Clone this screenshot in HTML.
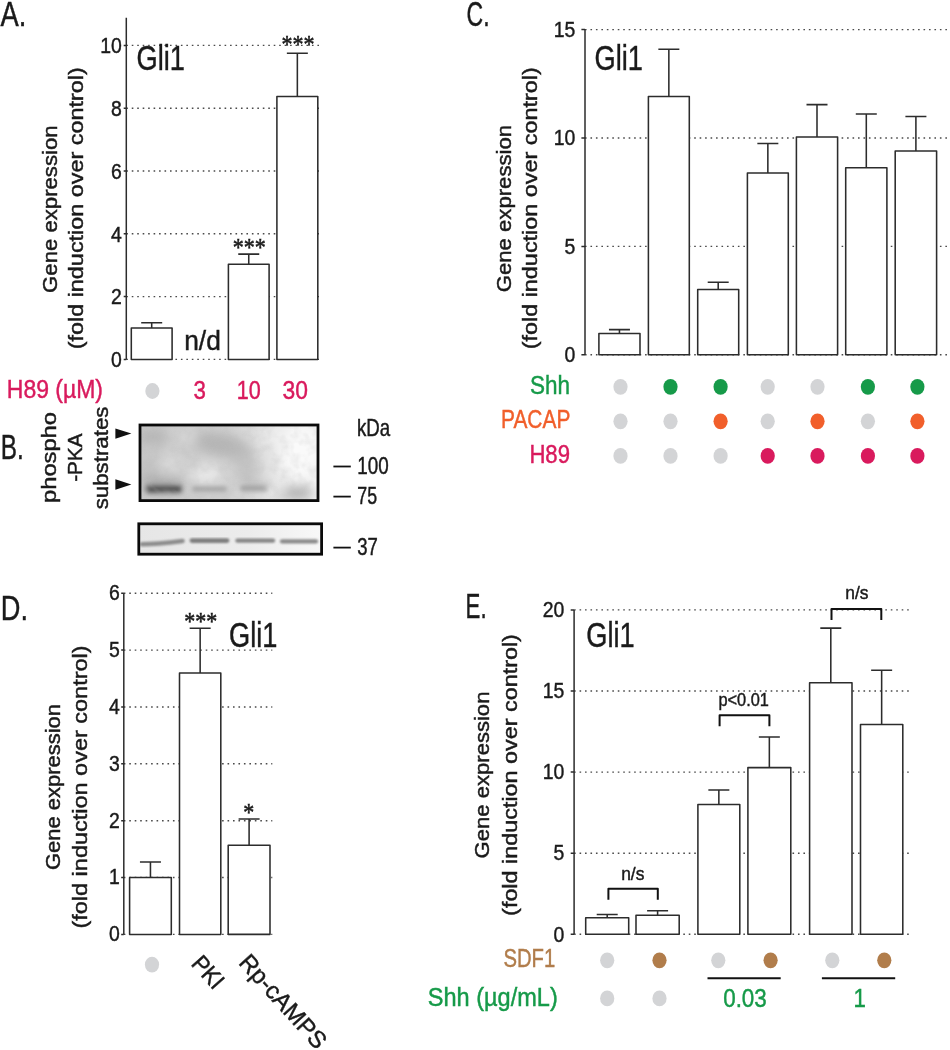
<!DOCTYPE html>
<html lang="en"><head><meta charset="utf-8"><title>Figure</title>
<style>
html,body{margin:0;padding:0;background:#fff}
svg{display:block;will-change:transform}
text{font-family:"Liberation Sans", sans-serif;stroke-width:.45}
.s{font-family:"Liberation Serif",serif;stroke-width:.55}
.g{stroke:#4a4a4a;stroke-width:1.4;stroke-dasharray:1.6 3.86;fill:none}
.b{fill:#fff;stroke:#2c2c2c;stroke-width:1.55;stroke-linejoin:round}
.e{fill:none;stroke:#2c2c2c;stroke-width:1.55}
.a{fill:none;stroke:#2c2c2c;stroke-width:1.5}
.k{fill:none;stroke:#111;stroke-width:2;stroke-linejoin:round}
</style></head>
<body>
<svg width="950" height="1050" viewBox="0 0 950 1050">
<defs>
<linearGradient id="bg1" x1="0" y1="0" x2="1" y2="0">
<stop offset="0" stop-color="#c9c9c9"/><stop offset=".5" stop-color="#d0d0d0"/><stop offset=".72" stop-color="#e2e2e2"/><stop offset=".86" stop-color="#f0f0f0"/><stop offset="1" stop-color="#f3f3f3"/>
</linearGradient>
<linearGradient id="bg2" x1="0" y1="0" x2="1" y2="0">
<stop offset="0" stop-color="#e6e6e6"/><stop offset=".6" stop-color="#ececec"/><stop offset="1" stop-color="#f8f8f8"/>
</linearGradient>
<clipPath id="c1"><rect x="140" y="425" width="178" height="75.6"/></clipPath>
<filter id="bl6" x="-30%" y="-30%" width="160%" height="160%"><feGaussianBlur stdDeviation="6"/></filter>
<filter id="bl2" x="-30%" y="-80%" width="160%" height="260%"><feGaussianBlur stdDeviation="2.1"/></filter>
<filter id="nz" x="0" y="0" width="100%" height="100%"><feTurbulence type="fractalNoise" baseFrequency=".11" numOctaves="2" seed="7" result="t"/><feColorMatrix in="t" type="matrix" values="0 0 0 0 .5 0 0 0 0 .5 0 0 0 0 .5 1.8 0 0 0 -.7"/></filter>
<filter id="bl1" x="-10%" y="-100%" width="120%" height="300%"><feGaussianBlur stdDeviation="1.1"/></filter>
</defs>
<rect width="950" height="1050" fill="#fff"/>
<g fill="#1a1a1a">
<!-- Panel A -->
<line x1="126.30" x2="322.50" y1="296.60" y2="296.60" class="g"/>
<line x1="126.30" x2="322.50" y1="233.80" y2="233.80" class="g"/>
<line x1="126.30" x2="322.50" y1="171.00" y2="171.00" class="g"/>
<line x1="126.30" x2="322.50" y1="108.20" y2="108.20" class="g"/>
<line x1="126.30" x2="322.50" y1="45.40" y2="45.40" class="g"/>
<line x1="126.30" x2="322.50" y1="359.40" y2="359.40" class="g"/>
<path d="M126.30 17.70V359.40M126.30 359.40h-2.6M126.30 296.60h-2.6M126.30 233.80h-2.6M126.30 171.00h-2.6M126.30 108.20h-2.6M126.30 45.40h-2.6" class="a"/>
<text x="111.10" y="367.10" font-size="22.8" textLength="10.80" lengthAdjust="spacingAndGlyphs" stroke="#1a1a1a" >0</text>
<text x="111.10" y="304.30" font-size="22.8" textLength="10.80" lengthAdjust="spacingAndGlyphs" stroke="#1a1a1a" >2</text>
<text x="111.10" y="241.50" font-size="22.8" textLength="10.80" lengthAdjust="spacingAndGlyphs" stroke="#1a1a1a" >4</text>
<text x="111.10" y="178.70" font-size="22.8" textLength="10.80" lengthAdjust="spacingAndGlyphs" stroke="#1a1a1a" >6</text>
<text x="111.10" y="115.90" font-size="22.8" textLength="10.80" lengthAdjust="spacingAndGlyphs" stroke="#1a1a1a" >8</text>
<text x="100.30" y="53.10" font-size="22.8" textLength="21.60" lengthAdjust="spacingAndGlyphs" stroke="#1a1a1a" >10</text>
<rect x="131.30" y="328.00" width="40.80" height="31.40" class="b"/>
<path d="M151.70 328.00V322.70M141.20 322.70H162.20" class="e"/>
<rect x="228.40" y="264.30" width="40.70" height="95.10" class="b"/>
<path d="M248.75 264.30V254.10M238.25 254.10H259.25" class="e"/>
<rect x="276.90" y="96.50" width="40.90" height="262.90" class="b"/>
<path d="M297.35 96.50V53.30M286.85 53.30H307.85" class="e"/>
<text x="136.60" y="69.60" font-size="35" textLength="48.40" lengthAdjust="spacingAndGlyphs" stroke="#1a1a1a" >Gli1</text>
<text x="0.50" y="25.90" font-size="35" textLength="25.80" lengthAdjust="spacingAndGlyphs" stroke="#1a1a1a" >A.</text>
<text x="184.20" y="349.50" font-size="28" textLength="36.60" lengthAdjust="spacingAndGlyphs" stroke="#1a1a1a" >n/d</text>
<text x="232.80" y="255.80" font-size="25" textLength="33.00" lengthAdjust="spacingAndGlyphs" stroke="#1a1a1a"  class="s">***</text>
<text x="281.50" y="52.80" font-size="25" textLength="33.00" lengthAdjust="spacingAndGlyphs" stroke="#1a1a1a"  class="s">***</text>
<text stroke="#1a1a1a" font-size="20.7" text-anchor="middle" textLength="167.4" lengthAdjust="spacingAndGlyphs" transform="translate(56.60 209.20) rotate(-90)">Gene expression</text>
<text stroke="#1a1a1a" font-size="20.7" text-anchor="middle" textLength="282" lengthAdjust="spacingAndGlyphs" transform="translate(83.00 208.30) rotate(-90)">(fold induction over control)</text>
<text x="6.80" y="397.60" font-size="25.5" textLength="96.20" lengthAdjust="spacingAndGlyphs" fill="#d91a5d" stroke="#d91a5d" >H89 (µM)</text>
<ellipse cx="152.40" cy="391.00" rx="7.10" ry="7.90" fill="#d3d4d6"/>
<text x="193.60" y="399.00" font-size="25.5" textLength="12.40" lengthAdjust="spacingAndGlyphs" fill="#d91a5d" stroke="#d91a5d" >3</text>
<text x="236.80" y="399.00" font-size="25.5" textLength="24.00" lengthAdjust="spacingAndGlyphs" fill="#d91a5d" stroke="#d91a5d" >10</text>
<text x="282.60" y="399.00" font-size="25.5" textLength="25.40" lengthAdjust="spacingAndGlyphs" fill="#d91a5d" stroke="#d91a5d" >30</text>
<!-- Panel B -->
<text x="0.80" y="458.60" font-size="35" textLength="23.00" lengthAdjust="spacingAndGlyphs" stroke="#1a1a1a" >B.</text>
<text x="56.00" y="503.00" font-size="20.8" textLength="91.00" lengthAdjust="spacingAndGlyphs" stroke="#1a1a1a" transform="rotate(-90 56.00 503.00)" >phospho</text>
<text x="82.20" y="481.80" font-size="20.8" textLength="48.30" lengthAdjust="spacingAndGlyphs" stroke="#1a1a1a" transform="rotate(-90 82.20 481.80)" >-PKA</text>
<text x="108.00" y="509.30" font-size="20.8" textLength="102.80" lengthAdjust="spacingAndGlyphs" stroke="#1a1a1a" transform="rotate(-90 108.00 509.30)" >substrates</text>
<path d="M115.4 428.4L131.4 433.6L115.4 438.8Z" fill="#111"/>
<path d="M115.4 479.3L131.4 484.5L115.4 489.7Z" fill="#111"/>
<g>
<rect x="140" y="425" width="178" height="75.6" fill="url(#bg1)"/>
<g clip-path="url(#c1)">
<g filter="url(#bl6)">
<ellipse cx="222" cy="445" rx="30" ry="11" fill="#9c9c9c" opacity=".5" transform="rotate(12 222 445)"/>
<ellipse cx="247" cy="466" rx="13" ry="15" fill="#b2b2b2" opacity=".5"/>
<ellipse cx="153" cy="437" rx="15" ry="8" fill="#a8a8a8" opacity=".6"/>
<ellipse cx="150" cy="470" rx="8" ry="16" fill="#b8b8b8" opacity=".5"/>
<ellipse cx="206" cy="474" rx="17" ry="9" fill="#efefef" opacity=".85"/>
<ellipse cx="170" cy="464" rx="11" ry="9" fill="#e6e6e6" opacity=".6"/>
<ellipse cx="186" cy="436" rx="12" ry="7" fill="#e2e2e2" opacity=".5"/>
<ellipse cx="300" cy="452" rx="20" ry="26" fill="#fbfbfb" opacity=".9"/>
<ellipse cx="276" cy="436" rx="14" ry="10" fill="#f1f1f1" opacity=".7"/>
<ellipse cx="162" cy="483" rx="22" ry="7" fill="#8e8e8e" opacity=".5"/>
<ellipse cx="298" cy="493" rx="16" ry="7" fill="#a4a4a4" opacity=".85"/>
<ellipse cx="254" cy="484" rx="15" ry="5" fill="#a0a0a0" opacity=".45"/>
</g>
<g filter="url(#bl2)">
<rect x="144.500" y="483" width="39" height="12" rx="5" fill="#808080" opacity=".5"/>
<rect x="146.500" y="486.3" width="35" height="5.6" rx="2.8" fill="#484848" opacity=".92"/>
<rect x="192" y="486.4" width="35" height="5" rx="2.5" fill="#949494" opacity=".75"/>
<rect x="240" y="485.2" width="27" height="6" rx="3" fill="#939393" opacity=".72"/>
</g>
<rect x="140" y="425" width="178" height="75.6" filter="url(#nz)" opacity=".3"/>
</g>
<rect x="140" y="425" width="178" height="75.6" fill="none" stroke="#0a0a0a" stroke-width="2.8"/>
</g>
<g>
<rect x="138.8" y="523.8" width="182.8" height="30.4" fill="url(#bg2)"/>
<g filter="url(#bl1)">
<path d="M142 544.2C155 544.2 170 542.5 182.5 541" stroke="#8c8c8c" stroke-width="4.6" stroke-linecap="round" fill="none"/>
<path d="M192 540.6H227" stroke="#7e7e7e" stroke-width="4.8" stroke-linecap="round" fill="none"/>
<path d="M237.5 540.6H273" stroke="#868686" stroke-width="4.4" stroke-linecap="round" fill="none"/>
<path d="M282 541.4H316" stroke="#8a8a8a" stroke-width="4.2" stroke-linecap="round" fill="none"/>
</g>
<rect x="138.8" y="523.8" width="182.8" height="30.4" fill="none" stroke="#0a0a0a" stroke-width="2.8"/>
</g>
<text x="357.00" y="436.40" font-size="23.4" textLength="33.20" lengthAdjust="spacingAndGlyphs" stroke="#1a1a1a" >kDa</text>
<line x1="333.4" x2="350.8" y1="466.5" y2="466.5" stroke="#111" stroke-width="1.8"/>
<text x="357.30" y="473.70" font-size="23.0" textLength="31.40" lengthAdjust="spacingAndGlyphs" stroke="#1a1a1a" >100</text>
<line x1="333.4" x2="350.8" y1="496.6" y2="496.6" stroke="#111" stroke-width="1.8"/>
<text x="357.30" y="503.80" font-size="23.0" textLength="19.80" lengthAdjust="spacingAndGlyphs" stroke="#1a1a1a" >75</text>
<line x1="333.4" x2="350.8" y1="547.6" y2="547.6" stroke="#111" stroke-width="1.8"/>
<text x="357.30" y="554.80" font-size="23.0" textLength="20.60" lengthAdjust="spacingAndGlyphs" stroke="#1a1a1a" >37</text>
<!-- Panel C -->
<line x1="585.00" x2="950.00" y1="354.80" y2="354.80" class="g"/>
<line x1="585.00" x2="950.00" y1="246.40" y2="246.40" class="g"/>
<line x1="585.00" x2="950.00" y1="138.00" y2="138.00" class="g"/>
<line x1="585.00" x2="950.00" y1="29.60" y2="29.60" class="g"/>
<path d="M585.00 29.60V354.80M585.00 354.80h-3.6M585.00 246.40h-3.6M585.00 138.00h-3.6M585.00 29.60h-3.6" class="a"/>
<text x="564.60" y="362.00" font-size="22.8" textLength="10.80" lengthAdjust="spacingAndGlyphs" stroke="#1a1a1a" >0</text>
<text x="564.60" y="253.60" font-size="22.8" textLength="10.80" lengthAdjust="spacingAndGlyphs" stroke="#1a1a1a" >5</text>
<text x="553.80" y="145.20" font-size="22.8" textLength="21.60" lengthAdjust="spacingAndGlyphs" stroke="#1a1a1a" >10</text>
<text x="553.80" y="36.80" font-size="22.8" textLength="21.60" lengthAdjust="spacingAndGlyphs" stroke="#1a1a1a" >15</text>
<rect x="598.90" y="333.40" width="41.10" height="21.40" class="b"/>
<path d="M619.45 333.40V329.60M608.95 329.60H629.95" class="e"/>
<rect x="648.40" y="96.50" width="40.90" height="258.30" class="b"/>
<path d="M668.85 96.50V49.30M658.35 49.30H679.35" class="e"/>
<rect x="697.70" y="289.50" width="41.00" height="65.30" class="b"/>
<path d="M718.20 289.50V282.30M707.70 282.30H728.70" class="e"/>
<rect x="747.40" y="173.00" width="40.90" height="181.80" class="b"/>
<path d="M767.85 173.00V143.50M757.35 143.50H778.35" class="e"/>
<rect x="796.40" y="137.00" width="41.20" height="217.80" class="b"/>
<path d="M817.00 137.00V104.60M806.50 104.60H827.50" class="e"/>
<rect x="845.70" y="167.80" width="41.20" height="187.00" class="b"/>
<path d="M866.30 167.80V114.00M855.80 114.00H876.80" class="e"/>
<rect x="895.20" y="151.00" width="41.40" height="203.80" class="b"/>
<path d="M915.90 151.00V116.50M905.40 116.50H926.40" class="e"/>
<text x="594.60" y="69.60" font-size="35" textLength="48.40" lengthAdjust="spacingAndGlyphs" stroke="#1a1a1a" >Gli1</text>
<text x="466.60" y="25.60" font-size="35" textLength="23.00" lengthAdjust="spacingAndGlyphs" stroke="#1a1a1a" >C.</text>
<text stroke="#1a1a1a" font-size="20.7" text-anchor="middle" textLength="167.4" lengthAdjust="spacingAndGlyphs" transform="translate(510.60 208.60) rotate(-90)">Gene expression</text>
<text stroke="#1a1a1a" font-size="20.7" text-anchor="middle" textLength="282" lengthAdjust="spacingAndGlyphs" transform="translate(537.40 208.30) rotate(-90)">(fold induction over control)</text>
<text x="530.00" y="393.60" font-size="25.5" textLength="40.00" lengthAdjust="spacingAndGlyphs" fill="#169a49" stroke="#169a49" >Shh</text>
<text x="501.00" y="428.20" font-size="25.5" textLength="69.40" lengthAdjust="spacingAndGlyphs" fill="#f15f2b" stroke="#f15f2b" >PACAP</text>
<text x="529.40" y="462.60" font-size="25.5" textLength="40.60" lengthAdjust="spacingAndGlyphs" fill="#d91a5d" stroke="#d91a5d" >H89</text>
<ellipse cx="620.50" cy="386.80" rx="7.10" ry="7.90" fill="#d3d4d6"/>
<ellipse cx="670.50" cy="386.80" rx="7.10" ry="7.90" fill="#169a49"/>
<ellipse cx="720.60" cy="386.80" rx="7.10" ry="7.90" fill="#169a49"/>
<ellipse cx="767.70" cy="386.80" rx="7.10" ry="7.90" fill="#d3d4d6"/>
<ellipse cx="817.50" cy="386.80" rx="7.10" ry="7.90" fill="#d3d4d6"/>
<ellipse cx="867.90" cy="386.80" rx="7.10" ry="7.90" fill="#169a49"/>
<ellipse cx="917.40" cy="386.80" rx="7.10" ry="7.90" fill="#169a49"/>
<ellipse cx="620.50" cy="421.30" rx="7.10" ry="7.90" fill="#d3d4d6"/>
<ellipse cx="670.50" cy="421.30" rx="7.10" ry="7.90" fill="#d3d4d6"/>
<ellipse cx="720.60" cy="421.30" rx="7.10" ry="7.90" fill="#f15f2b"/>
<ellipse cx="767.70" cy="421.30" rx="7.10" ry="7.90" fill="#d3d4d6"/>
<ellipse cx="817.50" cy="421.30" rx="7.10" ry="7.90" fill="#f15f2b"/>
<ellipse cx="867.90" cy="421.30" rx="7.10" ry="7.90" fill="#d3d4d6"/>
<ellipse cx="917.40" cy="421.30" rx="7.10" ry="7.90" fill="#f15f2b"/>
<ellipse cx="620.50" cy="455.90" rx="7.10" ry="7.90" fill="#d3d4d6"/>
<ellipse cx="670.50" cy="455.90" rx="7.10" ry="7.90" fill="#d3d4d6"/>
<ellipse cx="720.60" cy="455.90" rx="7.10" ry="7.90" fill="#d3d4d6"/>
<ellipse cx="767.70" cy="455.90" rx="7.10" ry="7.90" fill="#d91a5d"/>
<ellipse cx="817.50" cy="455.90" rx="7.10" ry="7.90" fill="#d91a5d"/>
<ellipse cx="867.90" cy="455.90" rx="7.10" ry="7.90" fill="#d91a5d"/>
<ellipse cx="917.40" cy="455.90" rx="7.10" ry="7.90" fill="#d91a5d"/>
<!-- Panel D -->
<line x1="123.80" x2="272.30" y1="934.40" y2="934.40" class="g"/>
<line x1="123.80" x2="272.30" y1="877.54" y2="877.54" class="g"/>
<line x1="123.80" x2="272.30" y1="820.68" y2="820.68" class="g"/>
<line x1="123.80" x2="272.30" y1="763.82" y2="763.82" class="g"/>
<line x1="123.80" x2="272.30" y1="706.96" y2="706.96" class="g"/>
<line x1="123.80" x2="272.30" y1="650.10" y2="650.10" class="g"/>
<line x1="123.80" x2="272.30" y1="593.24" y2="593.24" class="g"/>
<path d="M123.80 593.24V934.40M123.80 934.40h-2.6M123.80 877.54h-2.6M123.80 820.68h-2.6M123.80 763.82h-2.6M123.80 706.96h-2.6M123.80 650.10h-2.6M123.80 593.24h-2.6" class="a"/>
<text x="108.90" y="941.30" font-size="22.8" textLength="10.80" lengthAdjust="spacingAndGlyphs" stroke="#1a1a1a" >0</text>
<text x="108.90" y="884.44" font-size="22.8" textLength="10.80" lengthAdjust="spacingAndGlyphs" stroke="#1a1a1a" >1</text>
<text x="108.90" y="827.58" font-size="22.8" textLength="10.80" lengthAdjust="spacingAndGlyphs" stroke="#1a1a1a" >2</text>
<text x="108.90" y="770.72" font-size="22.8" textLength="10.80" lengthAdjust="spacingAndGlyphs" stroke="#1a1a1a" >3</text>
<text x="108.90" y="713.86" font-size="22.8" textLength="10.80" lengthAdjust="spacingAndGlyphs" stroke="#1a1a1a" >4</text>
<text x="108.90" y="657.00" font-size="22.8" textLength="10.80" lengthAdjust="spacingAndGlyphs" stroke="#1a1a1a" >5</text>
<text x="108.90" y="600.14" font-size="22.8" textLength="10.80" lengthAdjust="spacingAndGlyphs" stroke="#1a1a1a" >6</text>
<rect x="129.60" y="877.50" width="41.70" height="56.90" class="b"/>
<path d="M150.45 877.50V862.00M139.95 862.00H160.95" class="e"/>
<rect x="179.50" y="673.00" width="41.30" height="261.40" class="b"/>
<path d="M200.15 673.00V628.30M189.65 628.30H210.65" class="e"/>
<rect x="228.20" y="845.30" width="41.80" height="89.10" class="b"/>
<path d="M249.10 845.30V818.90M238.60 818.90H259.60" class="e"/>
<text x="229.10" y="647.10" font-size="35" textLength="48.40" lengthAdjust="spacingAndGlyphs" stroke="#1a1a1a" >Gli1</text>
<text x="0.80" y="619.60" font-size="35" textLength="27.20" lengthAdjust="spacingAndGlyphs" stroke="#1a1a1a" >D.</text>
<text x="184.20" y="629.50" font-size="25" textLength="33.00" lengthAdjust="spacingAndGlyphs" stroke="#1a1a1a"  class="s">***</text>
<text x="243.20" y="821.30" font-size="25" textLength="11.00" lengthAdjust="spacingAndGlyphs" stroke="#1a1a1a"  class="s">*</text>
<text stroke="#1a1a1a" font-size="20.7" text-anchor="middle" textLength="166" lengthAdjust="spacingAndGlyphs" transform="translate(60.00 787.00) rotate(-90)">Gene expression</text>
<text stroke="#1a1a1a" font-size="20.7" text-anchor="middle" textLength="283.2" lengthAdjust="spacingAndGlyphs" transform="translate(87.00 787.00) rotate(-90)">(fold induction over control)</text>
<ellipse cx="152.00" cy="964.60" rx="7.10" ry="7.90" fill="#d3d4d6"/>
<text x="190.20" y="964.40" font-size="24" textLength="35.50" lengthAdjust="spacingAndGlyphs" stroke="#1a1a1a" transform="rotate(48 190.20 964.40)" >PKI</text>
<text x="237.80" y="963.20" font-size="24" textLength="117.50" lengthAdjust="spacingAndGlyphs" stroke="#1a1a1a" transform="rotate(48 237.80 963.20)" >Rp-cAMPS</text>
<!-- Panel E -->
<line x1="574.10" x2="911.50" y1="934.30" y2="934.30" class="g"/>
<line x1="574.10" x2="911.50" y1="853.20" y2="853.20" class="g"/>
<line x1="574.10" x2="911.50" y1="772.10" y2="772.10" class="g"/>
<line x1="574.10" x2="911.50" y1="691.00" y2="691.00" class="g"/>
<line x1="574.10" x2="911.50" y1="609.90" y2="609.90" class="g"/>
<path d="M574.10 609.90V934.30M574.10 934.30h-3.4M574.10 853.20h-3.4M574.10 772.10h-3.4M574.10 691.00h-3.4M574.10 609.90h-3.4" class="a"/>
<text x="553.50" y="941.50" font-size="22.8" textLength="10.80" lengthAdjust="spacingAndGlyphs" stroke="#1a1a1a" >0</text>
<text x="553.50" y="860.40" font-size="22.8" textLength="10.80" lengthAdjust="spacingAndGlyphs" stroke="#1a1a1a" >5</text>
<text x="542.70" y="779.30" font-size="22.8" textLength="21.60" lengthAdjust="spacingAndGlyphs" stroke="#1a1a1a" >10</text>
<text x="542.70" y="698.20" font-size="22.8" textLength="21.60" lengthAdjust="spacingAndGlyphs" stroke="#1a1a1a" >15</text>
<text x="542.70" y="617.10" font-size="22.8" textLength="21.60" lengthAdjust="spacingAndGlyphs" stroke="#1a1a1a" >20</text>
<rect x="585.70" y="917.80" width="43.00" height="16.50" class="b"/>
<path d="M607.20 917.80V914.50M596.70 914.50H617.70" class="e"/>
<rect x="636.00" y="915.30" width="43.20" height="19.00" class="b"/>
<path d="M657.60 915.30V910.70M647.10 910.70H668.10" class="e"/>
<rect x="697.90" y="804.50" width="41.90" height="129.80" class="b"/>
<path d="M718.85 804.50V789.90M708.35 789.90H729.35" class="e"/>
<rect x="747.90" y="767.60" width="42.90" height="166.70" class="b"/>
<path d="M769.35 767.60V737.00M758.85 737.00H779.85" class="e"/>
<rect x="809.60" y="682.70" width="42.40" height="251.60" class="b"/>
<path d="M830.80 682.70V628.10M820.30 628.10H841.30" class="e"/>
<rect x="860.50" y="724.40" width="42.30" height="209.90" class="b"/>
<path d="M881.65 724.40V670.30M871.15 670.30H892.15" class="e"/>
<text x="586.30" y="647.10" font-size="35" textLength="48.40" lengthAdjust="spacingAndGlyphs" stroke="#1a1a1a" >Gli1</text>
<text x="465.60" y="618.20" font-size="35" textLength="21.00" lengthAdjust="spacingAndGlyphs" stroke="#1a1a1a" >E.</text>
<text stroke="#1a1a1a" font-size="20.7" text-anchor="middle" textLength="166.8" lengthAdjust="spacingAndGlyphs" transform="translate(489.00 775.00) rotate(-90)">Gene expression</text>
<text stroke="#1a1a1a" font-size="20.7" text-anchor="middle" textLength="281.8" lengthAdjust="spacingAndGlyphs" transform="translate(516.60 775.00) rotate(-90)">(fold induction over control)</text>
<path d="M608.40 899.70V888.70H657.80V899.70" class="k"/>
<text x="621.20" y="879.60" font-size="18.5" textLength="23.20" lengthAdjust="spacingAndGlyphs" stroke="#1a1a1a" >n/s</text>
<path d="M719.60 726.20V715.20H769.40V726.20" class="k"/>
<text x="718.40" y="706.40" font-size="18.5" textLength="50.50" lengthAdjust="spacingAndGlyphs" stroke="#1a1a1a" >p&lt;0.01</text>
<path d="M831.50 620.00V609.00H881.30V620.00" class="k"/>
<text x="845.30" y="599.20" font-size="18.5" textLength="23.20" lengthAdjust="spacingAndGlyphs" stroke="#1a1a1a" >n/s</text>
<text x="503.40" y="967.00" font-size="25.5" textLength="51.80" lengthAdjust="spacingAndGlyphs" fill="#b17d4b" stroke="#b17d4b" >SDF1</text>
<text x="427.80" y="1006.40" font-size="25.5" textLength="130.00" lengthAdjust="spacingAndGlyphs" fill="#169a49" stroke="#169a49" >Shh (µg/mL)</text>
<ellipse cx="607.20" cy="960.30" rx="7.10" ry="7.90" fill="#d3d4d6"/>
<ellipse cx="659.50" cy="960.30" rx="7.10" ry="7.90" fill="#b17d4b"/>
<ellipse cx="718.30" cy="960.30" rx="7.10" ry="7.90" fill="#d3d4d6"/>
<ellipse cx="770.60" cy="960.30" rx="7.10" ry="7.90" fill="#b17d4b"/>
<ellipse cx="832.30" cy="960.30" rx="7.10" ry="7.90" fill="#d3d4d6"/>
<ellipse cx="884.30" cy="960.30" rx="7.10" ry="7.90" fill="#b17d4b"/>
<ellipse cx="607.20" cy="998.40" rx="7.10" ry="7.90" fill="#d3d4d6"/>
<ellipse cx="659.50" cy="998.40" rx="7.10" ry="7.90" fill="#d3d4d6"/>
<line x1="707.5" x2="780.7" y1="978.2" y2="978.2" stroke="#111" stroke-width="2"/>
<line x1="821.9" x2="895.2" y1="978.2" y2="978.2" stroke="#111" stroke-width="2"/>
<text x="723.20" y="1006.60" font-size="25.5" textLength="43.60" lengthAdjust="spacingAndGlyphs" fill="#169a49" stroke="#169a49" >0.03</text>
<text x="853.40" y="1006.60" font-size="25.5" textLength="12.40" lengthAdjust="spacingAndGlyphs" fill="#169a49" stroke="#169a49" >1</text>
</g>
</svg>
</body></html>
